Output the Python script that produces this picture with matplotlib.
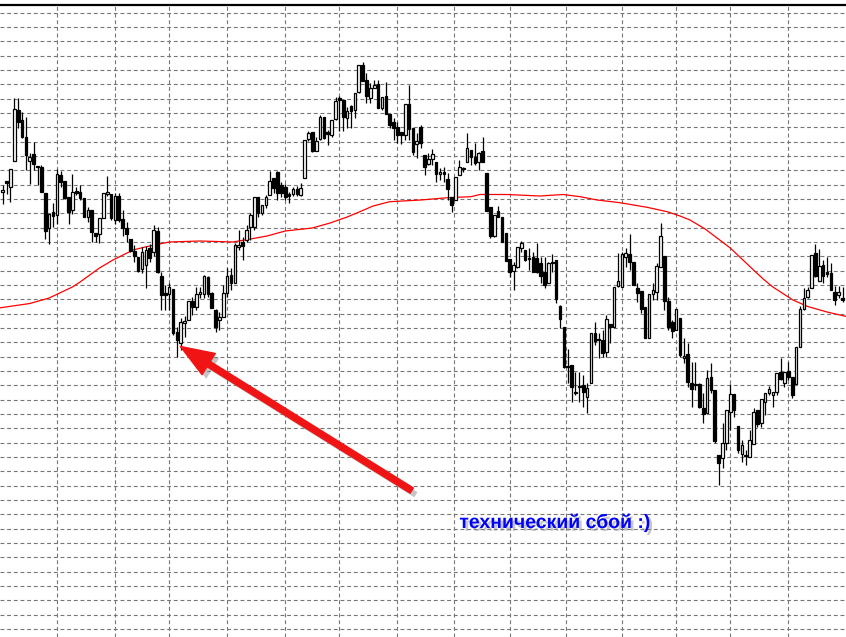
import numpy as np
import matplotlib.pyplot as plt
import matplotlib.patheffects as pe
from matplotlib.patches import FancyArrowPatch

# daily bars, price in chart points
opens = [448, 459, 453, 479, 530, 520, 503, 479, 486, 474,
         473, 447, 412, 428, 425, 465, 459, 443, 430, 449,
         448, 442, 423, 430, 407, 406, 422, 446, 446, 420,
         444, 421, 412, 401, 389, 383, 371, 375, 392, 388,
         409, 364, 347, 346, 351, 308, 297, 317, 320, 339,
         333, 346, 346, 363, 347, 330, 320, 323, 347, 365,
         357, 393, 398, 400, 413, 413, 443, 427, 435, 445,
         462, 468, 455, 453, 446, 446, 451, 445, 462, 501,
         508, 489, 501, 523, 508, 505, 521, 542, 540, 522,
         534, 530, 548, 575, 560, 542, 552, 556, 532, 544,
         526, 518, 513, 508, 505, 536, 512, 496, 513, 485,
         476, 481, 478, 466, 468, 461, 443, 440, 465, 471,
         478, 490, 483, 478, 489, 467, 433, 404, 429, 423,
         407, 381, 369, 373, 392, 390, 382, 383, 382, 377,
         368, 357, 377, 380, 334, 313, 274, 275, 248, 253,
         255, 243, 257, 307, 301, 300, 288, 316, 313, 354,
         353, 383, 386, 378, 352, 349, 333, 302, 346, 348,
         373, 384, 339, 318, 310, 322, 282, 286, 257, 256,
         256, 232, 227, 263, 250, 185, 182, 197, 228, 246,
         214, 186, 185, 183, 196, 230, 217, 238, 247, 245,
         248, 268, 257, 269, 263, 256, 293, 331, 343, 352,
         387, 359, 375, 368, 367, 348, 345, 342]

highs = [455, 459, 471, 542, 542, 528, 523, 487, 498, 474,
         475, 447, 426, 437, 471, 469, 459, 443, 466, 453,
         455, 442, 433, 430, 407, 422, 447, 464, 446, 447,
         447, 430, 418, 401, 395, 383, 393, 394, 396, 415,
         413, 368, 355, 357, 351, 313, 322, 324, 339, 343,
         353, 353, 365, 364, 348, 331, 328, 355, 372, 372,
         397, 410, 403, 415, 427, 443, 443, 435, 445, 469,
         462, 469, 458, 456, 448, 453, 454, 457, 500, 509,
         508, 503, 525, 523, 510, 520, 543, 544, 540, 533,
         535, 547, 575, 578, 567, 557, 560, 560, 543, 558,
         526, 522, 518, 508, 536, 555, 512, 507, 515, 485,
         487, 491, 478, 472, 473, 467, 443, 463, 480, 473,
         507, 490, 497, 488, 503, 467, 433, 425, 434, 423,
         407, 381, 378, 393, 399, 390, 392, 388, 397, 383,
         383, 378, 386, 380, 335, 313, 291, 275, 268, 268,
         265, 257, 307, 318, 307, 310, 325, 316, 353, 387,
         388, 392, 406, 378, 357, 349, 333, 346, 357, 377,
         417, 384, 343, 320, 331, 322, 302, 297, 278, 278,
         257, 247, 270, 277, 250, 185, 217, 230, 256, 246,
         214, 200, 190, 210, 232, 230, 241, 247, 254, 248,
         267, 282, 268, 278, 263, 293, 334, 352, 353, 385,
         396, 391, 380, 383, 377, 354, 354, 353]

lows = [436, 446, 438, 479, 512, 502, 470, 456, 470, 455,
        448, 401, 396, 413, 416, 453, 441, 416, 426, 445,
        440, 423, 418, 398, 398, 397, 422, 444, 420, 416,
        418, 404, 398, 388, 378, 368, 367, 352, 378, 384,
        367, 330, 330, 330, 305, 283, 290, 303, 320, 325,
        330, 342, 342, 343, 332, 308, 310, 323, 343, 350,
        357, 390, 380, 398, 400, 410, 423, 425, 432, 445,
        447, 440, 443, 440, 437, 444, 444, 444, 462, 499,
        488, 489, 500, 501, 495, 503, 520, 509, 509, 512,
        512, 522, 547, 559, 537, 537, 552, 532, 530, 526,
        512, 500, 497, 496, 500, 500, 485, 482, 492, 465,
        475, 475, 458, 460, 458, 440, 428, 440, 465, 468,
        478, 475, 475, 470, 478, 429, 402, 403, 423, 398,
        379, 363, 350, 372, 388, 379, 370, 368, 367, 357,
        352, 357, 368, 337, 312, 272, 257, 238, 245, 238,
        233, 227, 257, 295, 282, 283, 283, 297, 313, 353,
        353, 373, 370, 355, 338, 327, 302, 302, 340, 340,
        373, 330, 310, 302, 310, 283, 277, 253, 233, 250,
        232, 217, 227, 247, 197, 155, 172, 190, 210, 223,
        187, 178, 175, 183, 196, 213, 213, 225, 245, 233,
        245, 260, 253, 260, 242, 256, 293, 330, 342, 352,
        363, 359, 357, 363, 350, 335, 342, 338]

closes = [450, 457, 471, 531, 518, 503, 485, 483, 476, 473,
          448, 409, 426, 424, 466, 458, 442, 428, 448, 447,
          442, 423, 430, 408, 404, 422, 447, 448, 422, 444,
          420, 412, 406, 389, 384, 369, 388, 390, 382, 410,
          368, 345, 345, 353, 307, 300, 318, 319, 339, 333,
          346, 348, 364, 346, 332, 313, 323, 347, 364, 357,
          395, 395, 394, 410, 425, 443, 427, 435, 443, 459,
          452, 447, 447, 443, 444, 451, 446, 452, 500, 507,
          489, 499, 523, 502, 506, 520, 539, 540, 523, 529,
          529, 547, 575, 559, 544, 552, 555, 532, 543, 526,
          515, 512, 505, 505, 536, 511, 488, 499, 497, 473,
          481, 486, 466, 468, 466, 451, 435, 463, 473, 472,
          492, 483, 477, 487, 478, 429, 404, 425, 423, 398,
          379, 368, 375, 393, 397, 380, 381, 368, 368, 364,
          355, 377, 378, 341, 321, 273, 273, 253, 247, 254,
          248, 252, 307, 299, 300, 287, 321, 313, 353, 359,
          386, 387, 378, 355, 347, 331, 302, 346, 350, 374,
          404, 339, 313, 309, 331, 285, 284, 258, 251, 255,
          233, 226, 262, 250, 199, 177, 197, 230, 246, 230,
          190, 195, 184, 200, 228, 216, 241, 247, 251, 248,
          267, 261, 268, 263, 245, 293, 331, 342, 350, 385,
          364, 374, 364, 366, 350, 340, 348, 340]

# moving average, sampled at bar positions
ma_bar = [-1, 7, 12, 18, 20, 25, 28.5, 33.7, 36.8, 43, 51, 59.5, 64, 68.3,
          73, 80, 84.6, 89, 91.5, 95.7, 100, 108, 115, 121, 123.3, 130.3,
          138.8, 144.8, 149.2, 153.6, 159.5, 166.5, 171.7, 175, 177.6,
          181.5, 188, 194, 196.5, 199, 204.2, 208, 213, 218]
ma_val = [332, 336.5, 342, 353, 358, 372, 380, 390, 393, 398, 399, 398, 401,
          404, 409, 412, 417, 423, 427, 434, 438.3, 440, 442.3, 443.3, 445.5,
          445.5, 444, 445.5, 443.3, 440, 437.3, 432.7, 428.3, 424, 420, 411,
          392, 370, 361, 353, 340, 333.5, 328, 323.5]

# vertical separators of the terminal grid, in bars
sep_bars = [14, 29, 43, 58, 73, 87, 102, 116.5, 131, 145.5, 160, 174, 188, 203]

label = 'технический сбой :)'

o = np.array(opens, dtype=float)
h = np.array(highs, dtype=float)
l = np.array(lows, dtype=float)
c = np.array(closes, dtype=float)
x = np.arange(len(o))
up = c >= o

fig = plt.figure(figsize=(8.46, 6.37), dpi=100)
ax = fig.add_axes([0, 0, 1, 632 / 637])
ax.set_xlim(-0.7, 217.9)
ax.set_ylim(3, 635)

# grid
ax.set_xticks(sep_bars)
ax.set_yticks(np.arange(627.3, 0, -14.33))
ax.grid(True, color='#767676', lw=0.8, linestyle=(0, (3.5, 2.5)))
ax.tick_params(length=0, labelbottom=False, labelleft=False)
for s in ['left', 'right', 'bottom']:
    ax.spines[s].set_visible(False)
ax.spines['top'].set_color('black')
ax.spines['top'].set_linewidth(1.6)

# candles
ax.vlines(x, l, h, color='black', lw=0.9, zorder=3)
body_lo = np.minimum(o, c)
body_h = np.maximum(np.abs(c - o), 1.0)
ax.bar(x[up], body_h[up], bottom=body_lo[up], width=0.68,
       facecolor='white', edgecolor='black', lw=0.9, zorder=4)
ax.bar(x[~up], body_h[~up], bottom=body_lo[~up], width=0.68,
       facecolor='black', edgecolor='black', lw=0.9, zorder=4)

ax.plot(ma_bar, ma_val, color='#ff0000', lw=0.9, zorder=2)

# annotation
arrow = FancyArrowPatch((106.3, 148), (45.3, 295),
                        arrowstyle='simple,head_length=1.2,head_width=0.9,tail_width=0.22',
                        mutation_scale=20, color='#f01414', zorder=6)
arrow.set_path_effects([pe.withSimplePatchShadow(offset=(3, -3), shadow_rgbFace='#808080', alpha=0.45)])
ax.add_patch(arrow)

ax.text(142.7, 117, label, color='#0000ff', fontsize=14, fontweight='bold',
        family=['Liberation Sans', 'DejaVu Sans'], ha='center', va='center', zorder=6,
        path_effects=[pe.withSimplePatchShadow(offset=(2, -2), shadow_rgbFace='#909090', alpha=0.5)])

fig.savefig('out.png', dpi=100, facecolor='white')
